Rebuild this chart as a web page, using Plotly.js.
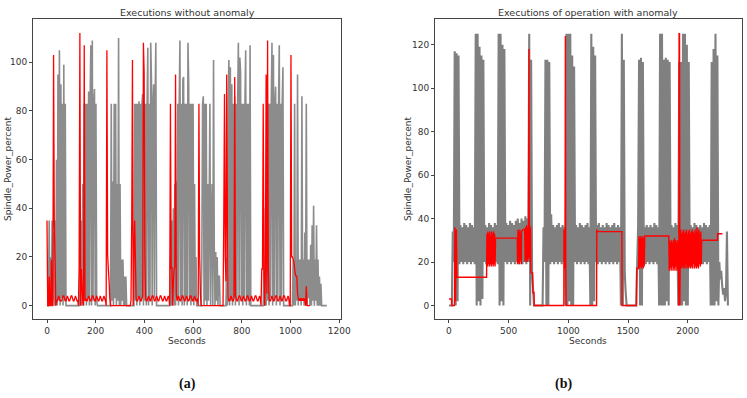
<!DOCTYPE html>
<html>
<head>
<meta charset="utf-8">
<script src="https://cdn.plot.ly/plotly-3.0.1.min.js"></script>
<style>
  html, body { margin: 0; padding: 0; background: #fff; }
  #chart { width: 747px; height: 398px; }
</style>
</head>
<body>
<div id="chart"></div>
<script>
// ---- (a) Executions without anomaly: spindle power sampled every 3 s ----
const stepA = 3;
const grayA = [
  0, 0, 0, 35, 0, 20, 0, 35, 2, 30,
  0, 35, 0, 60, 0, 95, 2, 105, 0, 91,
  3, 83, 0, 99, 2, 83, 0, 0, 0, 0,
  0, 0, 0, 0, 0, 0, 0, 0, 0, 0,
  0, 0, 0, 0, 0, 20, 0, 35, 0, 50,
  0, 83, 2, 83, 0, 83, 3, 88, 0, 83,
  107, 0, 109, 2, 83, 89, 0, 83, 2, 0,
  0, 0, 0, 0, 0, 0, 0, 0, 0, 0,
  0, 0, 0, 0, 0, 0, 0, 0, 83, 2,
  51, 0, 83, 3, 83, 0, 50, 2, 110, 0,
  50, 0, 19, 2, 19, 0, 12, 0, 12, 0,
  0, 0, 0, 0, 0, 0, 0, 0, 0, 0,
  83, 2, 83, 0, 83, 3, 84, 0, 83, 2,
  83, 87, 0, 83, 2, 83, 0, 83, 106, 0,
  83, 2, 108, 93, 0, 83, 91, 3, 83, 108,
  0, 0, 0, 0, 0, 0, 0, 0, 0, 0,
  0, 0, 0, 0, 0, 0, 0, 0, 0, 20,
  0, 35, 2, 40, 0, 50, 0, 51, 3, 83,
  0, 83, 109, 2, 83, 0, 93, 94, 0, 83,
  3, 83, 0, 108, 91, 2, 83, 0, 83, 2,
  83, 0, 50, 2, 20, 0, 0, 0, 0, 0,
  0, 0, 20, 83, 86, 0, 83, 2, 83, 0,
  50, 2, 40, 83, 0, 35, 50, 0, 101, 24,
  0, 22, 2, 20, 0, 12, 12, 0, 0, 0,
  0, 0, 0, 0, 0, 0, 20, 0, 83, 101,
  0, 98, 2, 91, 0, 83, 3, 86, 0, 83,
  2, 83, 108, 0, 102, 96, 2, 83, 0, 83,
  3, 83, 105, 0, 83, 2, 83, 0, 107, 0,
  0, 0, 0, 0, 0, 0, 0, 0, 0, 0,
  0, 0, 0, 0, 0, 0, 0, 20, 0, 40,
  0, 83, 2, 83, 0, 83, 3, 83, 108, 0,
  103, 2, 83, 90, 0, 83, 3, 83, 107, 0,
  83, 2, 83, 98, 0, 0, 0, 0, 0, 0,
  0, 0, 0, 0, 0, 0, 0, 19, 0, 83,
  0, 19, 2, 95, 0, 19, 2, 19, 0, 86,
  2, 19, 0, 30, 2, 83, 0, 19, 3, 19,
  0, 25, 0, 33, 2, 41, 0, 19, 2, 33,
  0, 19, 0, 12, 0, 9, 0, 0, 0, 0,
  0, 0, 0, 0
];
const redA = [
  35, 0, 0, 12, 0, 0, 19, 0, 0, 103,
  35, 20, 0, 2, 2, 3, 4, 3, 2, 2,
  2, 3, 4, 4, 3, 2, 2, 3, 4, 3,
  2, 2, 3, 4, 4, 3, 2, 2, 3, 4,
  3, 2, 2, 0, 15, 112, 0, 15, 8, 2,
  0, 107, 2, 3, 2, 2, 3, 4, 3, 2,
  2, 3, 4, 4, 3, 2, 2, 3, 4, 3,
  2, 2, 3, 4, 3, 2, 2, 3, 4, 3,
  2, 0, 105, 21, 15, 10, 3, 0, 0, 0,
  0, 0, 0, 0, 0, 0, 0, 0, 0, 0,
  0, 0, 0, 0, 0, 0, 0, 0, 0, 0,
  0, 0, 0, 0, 0, 2, 35, 101, 0, 20,
  35, 20, 3, 2, 2, 3, 4, 3, 2, 2,
  3, 4, 108, 96, 20, 3, 2, 2, 3, 4,
  3, 2, 2, 3, 4, 4, 3, 2, 2, 3,
  4, 3, 2, 2, 3, 4, 4, 3, 2, 2,
  3, 4, 3, 2, 2, 3, 4, 3, 0, 83,
  15, 16, 0, 10, 15, 16, 95, 5, 2, 3,
  4, 3, 2, 2, 3, 4, 4, 3, 2, 2,
  3, 4, 3, 2, 2, 3, 4, 4, 3, 2,
  2, 3, 4, 3, 2, 2, 3, 0, 83, 21,
  5, 0, 0, 0, 0, 0, 0, 0, 0, 0,
  0, 0, 0, 0, 0, 0, 0, 0, 0, 0,
  0, 0, 0, 0, 0, 0, 0, 0, 0, 0,
  0, 0, 35, 87, 20, 10, 95, 35, 3, 2,
  2, 3, 4, 3, 2, 2, 3, 94, 4, 3,
  2, 2, 3, 4, 4, 3, 2, 2, 3, 4,
  3, 2, 2, 3, 4, 4, 3, 2, 2, 3,
  4, 3, 2, 2, 3, 4, 4, 3, 2, 2,
  3, 4, 3, 0, 15, 15, 83, 15, 0, 15,
  95, 5, 109, 15, 3, 2, 2, 3, 4, 3,
  2, 2, 3, 4, 4, 3, 2, 2, 3, 4,
  3, 2, 2, 3, 4, 4, 3, 2, 2, 3,
  4, 3, 0, 0, 103, 20, 20, 19, 18, 15,
  13, 12, 12, 5, 3, 2, 3, 2, 3, 2,
  3, 2, 3, 2, 0, 8, 0, 0, 0, 0,
  0
];

// ---- (b) Executions of operation with anomaly: gray sampled every 8 s ----
const stepB = 8;
const grayB = [
  0, 0, 0, 0, 34, 20, 117, 0, 116, 2,
  115, 19, 37, 20, 36, 19, 38, 20, 37, 19,
  36, 20, 38, 19, 37, 20, 36, 19, 125, 0,
  125, 2, 119, 0, 115, 3, 113, 20, 37, 19,
  36, 20, 38, 19, 37, 20, 36, 19, 38, 20,
  37, 19, 125, 0, 125, 2, 120, 0, 118, 20,
  38, 19, 37, 20, 39, 19, 38, 20, 37, 19,
  39, 20, 40, 19, 38, 20, 40, 19, 39, 20,
  41, 19, 40, 20, 125, 0, 113, 15, 8, 0,
  0, 0, 0, 0, 0, 0, 0, 0, 0, 36,
  20, 113, 0, 113, 0, 112, 19, 42, 20, 37,
  19, 36, 20, 37, 19, 38, 20, 36, 19, 37,
  20, 36, 0, 125, 0, 125, 2, 125, 0, 115,
  0, 110, 20, 37, 19, 36, 20, 38, 19, 37,
  20, 36, 19, 37, 20, 38, 19, 36, 0, 125,
  0, 119, 2, 115, 20, 37, 19, 38, 20, 36,
  19, 37, 20, 36, 19, 38, 20, 37, 19, 36,
  20, 37, 19, 38, 20, 36, 19, 37, 20, 36,
  0, 125, 0, 113, 15, 6, 0, 0, 0, 0,
  0, 0, 0, 0, 0, 0, 0, 19, 36, 113,
  0, 114, 0, 112, 20, 36, 19, 37, 20, 36,
  19, 37, 20, 36, 19, 38, 20, 37, 19, 36,
  0, 125, 0, 125, 0, 113, 0, 114, 2, 113,
  0, 112, 20, 37, 19, 36, 20, 38, 19, 37,
  0, 112, 0, 112, 0, 125, 2, 125, 0, 120,
  0, 112, 20, 37, 19, 36, 20, 38, 19, 37,
  20, 36, 19, 37, 20, 36, 19, 38, 20, 37,
  19, 36, 20, 37, 0, 112, 0, 118, 0, 125,
  2, 115, 0, 20, 12, 16, 9, 5, 8, 2,
  6, 34, 0
];
// red run of (b): time stamps (s) and power (%)
const redBt = [
  0, 22, 24, 46, 50, 54, 58, 62, 66, 315,
  318, 322, 326, 330, 334, 338, 342, 346, 350, 354, 358, 362, 366, 370, 374, 378, 382, 386, 390,
  572, 574, 578, 582, 586, 590, 594, 598, 602, 606, 608, 620, 634,
  638, 642, 646, 650, 654, 658, 662, 666, 670, 673, 676, 680, 683,
  686, 700, 702, 712, 714,
  962, 963, 966, 969, 972, 975, 978, 981,
  1236, 1238, 1242, 1448, 1450, 1570, 1572, 1588,
  1591, 1595, 1599, 1603, 1607, 1611, 1615, 1619, 1623, 1627, 1631, 1635, 1640,
  1841, 1845, 1849, 1853, 1857, 1861, 1865, 1869, 1873, 1877, 1881, 1885, 1889,
  1893, 1897, 1901, 1905, 1909, 1913, 1917, 1921,
  1925, 1927, 1931, 1933, 1937,
  1941, 1945, 1949, 1953, 1957, 1961, 1965, 1969, 1973, 1977, 1981, 1985, 1989,
  1993, 1997, 2001, 2005, 2009, 2013, 2017, 2021, 2025, 2029, 2033, 2037, 2041,
  2045, 2049, 2053, 2057, 2061, 2065, 2069, 2073, 2077, 2081, 2085, 2089, 2093,
  2097, 2101, 2105, 2109, 2113, 2116,
  2248, 2250, 2290
];
const redBy = [
  3, 3, 0, 0, 36, 2, 20, 35, 13, 13,
  33, 18, 34, 19, 33, 18, 34, 19, 32, 18, 34, 19, 33, 18, 34, 19, 33, 18, 31,
  31, 19, 35, 20, 34, 19, 35, 21, 33, 19, 34, 35, 35,
  20, 36, 21, 37, 20, 36, 21, 37, 118, 22, 37, 20, 36,
  15, 15, 6, 6, 0,
  0, 35, 17, 33, 18, 124, 20, 0,
  0, 35, 34, 34, 0, 0, 17, 17,
  32, 17, 31, 18, 32, 17, 31, 18, 32, 17, 31, 18, 32,
  32, 16, 30, 17, 29, 16, 30, 18, 29, 16, 30, 17, 31,
  16, 30, 18, 29, 16, 30, 17, 28,
  0, 125, 125, 0, 20,
  35, 17, 33, 18, 34, 17, 35, 18, 33, 17, 34, 19, 35,
  17, 33, 18, 34, 17, 35, 18, 33, 17, 34, 18, 35, 17,
  34, 19, 33, 17, 35, 18, 34, 17, 36, 18, 34, 17, 35,
  19, 33, 18, 34, 19, 30,
  30, 33, 33
];

// axis ticks
const xTicksA = [0, 200, 400, 600, 800, 1000, 1200];
const yTicksA = [0, 20, 40, 60, 80, 100];
const xTicksB = [0, 500, 1000, 1500, 2000];
const yTicksB = [0, 20, 40, 60, 80, 100, 120];

const W = 747, H = 398;
const px = v => v / W;          // horizontal pixel -> paper fraction
const py = v => 1 - v / H;      // vertical pixel (from top) -> paper fraction

const textColor = '#333333';
const frameColor = '#444444';
const fontMain = 'DejaVu Sans, sans-serif';

function axisStyle(extra) {
  return Object.assign({
    showgrid: false,
    zeroline: false,
    showline: true,
    mirror: true,
    linecolor: frameColor,
    linewidth: 1,
    ticks: 'outside',
    ticklen: 3,
    tickwidth: 1,
    tickcolor: frameColor,
    tickfont: { family: fontMain, size: 9, color: textColor },
    fixedrange: true
  }, extra);
}

const traces = [
  {
    x0: 0, dx: stepA, y: grayA, xaxis: 'x', yaxis: 'y',
    type: 'scatter', mode: 'lines',
    line: { color: 'rgba(128,128,128,0.9)', width: 1.6, simplify: false },
    hoverinfo: 'skip'
  },
  {
    x0: 0, dx: stepA, y: redA, xaxis: 'x', yaxis: 'y',
    type: 'scatter', mode: 'lines',
    line: { color: '#ff0000', width: 1.3, simplify: false },
    hoverinfo: 'skip'
  },
  {
    x0: 0, dx: stepB, y: grayB, xaxis: 'x2', yaxis: 'y2',
    type: 'scatter', mode: 'lines',
    line: { color: '#808080', width: 2.1, simplify: false },
    hoverinfo: 'skip'
  },
  {
    x: redBt, y: redBy, xaxis: 'x2', yaxis: 'y2',
    type: 'scatter', mode: 'lines',
    line: { color: '#ff0000', width: 1.4, simplify: false },
    hoverinfo: 'skip'
  }
];

function label(text, x, y, opts) {
  return Object.assign({
    text: text, xref: 'paper', yref: 'paper',
    x: px(x), y: py(y), xanchor: 'center', yanchor: 'middle',
    showarrow: false,
    font: { family: fontMain, size: 9, color: textColor }
  }, opts || {});
}

const layout = {
  width: W, height: H,
  margin: { l: 0, r: 0, t: 0, b: 0 },
  paper_bgcolor: '#ffffff',
  plot_bgcolor: '#ffffff',
  showlegend: false,
  xaxis: axisStyle({ domain: [px(33), px(341)], range: [-57.5, 1207.5], tickvals: xTicksA, anchor: 'y' }),
  yaxis: axisStyle({ domain: [py(319), py(19)], range: [-5.5, 117.8], tickvals: yTicksA, anchor: 'x' }),
  xaxis2: axisStyle({ domain: [px(435), px(742)], range: [-117, 2454], tickvals: xTicksB, anchor: 'y2' }),
  yaxis2: axisStyle({ domain: [py(319), py(19)], range: [-6.2, 131.8], tickvals: yTicksB, anchor: 'x2' }),
  annotations: [
    label('Executions without anomaly', 187, 12, { font: { family: fontMain, size: 9.5, color: textColor } }),
    label('Executions of operation with anomaly', 588, 12, { font: { family: fontMain, size: 9.5, color: textColor } }),
    label('Seconds', 187, 340.5),
    label('Seconds', 588, 340.5),
    label('Spindle_Power_percent', 8, 169, { textangle: -90 }),
    label('Spindle_Power_percent', 408, 169, { textangle: -90 }),
    label('<b>(a)</b>', 187, 384, { font: { family: 'Liberation Serif, serif', size: 14, color: '#111' } }),
    label('<b>(b)</b>', 563, 384, { font: { family: 'Liberation Serif, serif', size: 14, color: '#111' } })
  ]
};

Plotly.newPlot('chart', traces, layout, { displayModeBar: false, staticPlot: true });
</script>
</body>
</html>
